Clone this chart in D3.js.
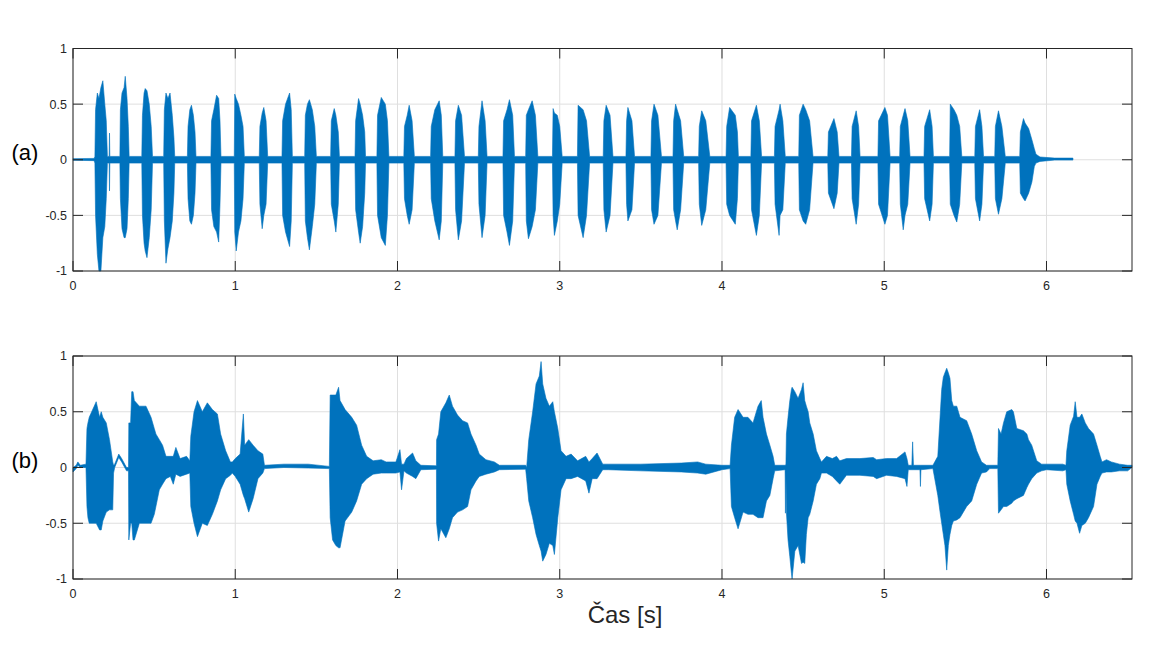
<!DOCTYPE html>
<html><head><meta charset="utf-8">
<script src="https://cdn.jsdelivr.net/npm/d3@7"></script>
<style>body{margin:0;background:#fff}</style>
</head><body>
<svg id="c" width="1158" height="651"></svg>
<script>
// ---- data ----
const xTicks = [0, 1, 2, 3, 4, 5, 6];
const yTicks = [-1, -0.5, 0, 0.5, 1];
const xMax = 6.527;
const panelLabels = ["(a)", "(b)"];
const xLabel = "Čas [s]";

// Panel (a): envelope of the waveform (time [s], upper, lower)
const timeA = [0, 0.13, 0.135, 0.139, 0.150, 0.160, 0.172, 0.184, 0.196, 0.205, 0.212, 0.223, 0.225, 0.227, 0.289,
  0.292, 0.302, 0.315, 0.322, 0.333, 0.341, 0.346,
  0.424, 0.428, 0.438, 0.445, 0.456, 0.470, 0.482, 0.490,
  0.559, 0.563, 0.573, 0.585, 0.598, 0.612, 0.622, 0.627,
  0.705, 0.709, 0.720, 0.730, 0.742, 0.752, 0.758,
  0.850, 0.854, 0.868, 0.885, 0.898, 0.906, 0.912,
  0.994, 0.997, 1.006, 1.020, 1.035, 1.048, 1.056,
  1.148, 1.152, 1.166, 1.176, 1.190, 1.200,
  1.288, 1.292, 1.310, 1.335, 1.345, 1.352,
  1.428, 1.432, 1.445, 1.457, 1.475, 1.490, 1.500,
  1.588, 1.592, 1.610, 1.620, 1.635, 1.642,
  1.738, 1.742, 1.760, 1.770, 1.785, 1.798, 1.803,
  1.873, 1.877, 1.900, 1.925, 1.938, 1.947,
  2.039, 2.043, 2.060, 2.072, 2.090, 2.104,
  2.204, 2.208, 2.230, 2.257, 2.270, 2.279,
  2.354, 2.358, 2.375, 2.395, 2.413,
  2.498, 2.502, 2.521, 2.540, 2.552,
  2.650, 2.654, 2.675, 2.690, 2.710, 2.721,
  2.790, 2.794, 2.807, 2.830, 2.850, 2.865,
  2.955, 2.959, 2.967, 2.985, 3.000, 3.015,
  3.109, 3.113, 3.144, 3.165, 3.184,
  3.268, 3.272, 3.286, 3.310, 3.328,
  3.408, 3.412, 3.420, 3.445, 3.461,
  3.562, 3.566, 3.581, 3.605, 3.627,
  3.698, 3.702, 3.714, 3.724, 3.745, 3.764,
  3.856, 3.860, 3.875, 3.900, 3.925,
  4.025, 4.029, 4.047, 4.082, 4.095, 4.101,
  4.178, 4.182, 4.212, 4.230, 4.244,
  4.323, 4.327, 4.352, 4.358, 4.375, 4.390,
  4.473, 4.477, 4.500, 4.516, 4.540, 4.561,
  4.652, 4.656, 4.690, 4.710, 4.721,
  4.798, 4.802, 4.827, 4.842, 4.851,
  4.961, 4.965, 5.004, 5.020, 5.036,
  5.095, 5.099, 5.117, 5.128, 5.145, 5.159,
  5.245, 5.249, 5.280, 5.295, 5.303,
  5.403, 5.407, 5.430, 5.447, 5.465, 5.478,
  5.558, 5.562, 5.588, 5.602, 5.612,
  5.681, 5.685, 5.704, 5.725, 5.746,
  5.835, 5.839, 5.858, 5.868, 5.890, 5.910, 5.925, 5.935,
  5.960, 6.050, 6.163];
const upperA = [0.01, 0.012, 0.03, 0.45, 0.6, 0.55, 0.65, 0.71, 0.5, 0.35, 0.03, 0.03, 0.24, 0.03, 0.03,
  0.45, 0.6, 0.65, 0.75, 0.55, 0.3, 0.03,
  0.03, 0.4, 0.6, 0.64, 0.62, 0.5, 0.3, 0.03,
  0.03, 0.45, 0.6, 0.55, 0.6, 0.4, 0.2, 0.03,
  0.03, 0.3, 0.45, 0.49, 0.4, 0.25, 0.03,
  0.03, 0.35, 0.45, 0.58, 0.55, 0.35, 0.03,
  0.03, 0.59, 0.55, 0.5, 0.4, 0.3, 0.03,
  0.03, 0.3, 0.42, 0.47, 0.35, 0.03,
  0.03, 0.35, 0.5, 0.6, 0.45, 0.03,
  0.03, 0.4, 0.5, 0.54, 0.45, 0.3, 0.03,
  0.03, 0.35, 0.46, 0.4, 0.25, 0.03,
  0.03, 0.35, 0.55, 0.5, 0.4, 0.25, 0.03,
  0.03, 0.4, 0.56, 0.5, 0.35, 0.03,
  0.03, 0.3, 0.4, 0.49, 0.35, 0.03,
  0.03, 0.3, 0.45, 0.53, 0.4, 0.03,
  0.03, 0.35, 0.49, 0.4, 0.03,
  0.03, 0.3, 0.53, 0.35, 0.03,
  0.03, 0.35, 0.45, 0.54, 0.4, 0.03,
  0.03, 0.4, 0.45, 0.53, 0.4, 0.03,
  0.03, 0.46, 0.42, 0.4, 0.3, 0.03,
  0.03, 0.49, 0.45, 0.35, 0.03,
  0.03, 0.35, 0.49, 0.4, 0.03,
  0.03, 0.35, 0.47, 0.35, 0.03,
  0.03, 0.35, 0.5, 0.4, 0.03,
  0.03, 0.35, 0.5, 0.45, 0.35, 0.03,
  0.03, 0.3, 0.44, 0.35, 0.03,
  0.03, 0.3, 0.47, 0.4, 0.25, 0.03,
  0.03, 0.35, 0.49, 0.35, 0.03,
  0.03, 0.3, 0.45, 0.5, 0.35, 0.03,
  0.03, 0.4, 0.5, 0.45, 0.35, 0.03,
  0.03, 0.25, 0.37, 0.25, 0.03,
  0.03, 0.3, 0.44, 0.3, 0.03,
  0.03, 0.35, 0.47, 0.4, 0.03,
  0.03, 0.3, 0.4, 0.46, 0.35, 0.03,
  0.03, 0.3, 0.45, 0.3, 0.03,
  0.03, 0.5, 0.45, 0.4, 0.3, 0.03,
  0.03, 0.3, 0.45, 0.3, 0.03,
  0.03, 0.3, 0.44, 0.3, 0.03,
  0.03, 0.25, 0.37, 0.33, 0.28, 0.18, 0.1, 0.05,
  0.025, 0.015, 0.015];
const lowerA = [-0.005, -0.008, -0.03, -0.5, -0.85, -1.0, -1.0, -0.7, -0.6, -0.35, -0.03, -0.03, -0.28, -0.03, -0.03,
  -0.35, -0.62, -0.7, -0.7, -0.62, -0.35, -0.03,
  -0.03, -0.5, -0.75, -0.82, -0.88, -0.7, -0.45, -0.03,
  -0.03, -0.55, -0.93, -0.8, -0.7, -0.55, -0.3, -0.03,
  -0.03, -0.35, -0.55, -0.58, -0.5, -0.3, -0.03,
  -0.03, -0.45, -0.6, -0.65, -0.74, -0.4, -0.03,
  -0.03, -0.65, -0.82, -0.65, -0.55, -0.35, -0.03,
  -0.03, -0.4, -0.62, -0.5, -0.4, -0.03,
  -0.03, -0.5, -0.65, -0.78, -0.55, -0.03,
  -0.03, -0.55, -0.7, -0.81, -0.6, -0.4, -0.03,
  -0.03, -0.4, -0.55, -0.65, -0.4, -0.03,
  -0.03, -0.45, -0.65, -0.75, -0.6, -0.3, -0.03,
  -0.03, -0.5, -0.7, -0.77, -0.5, -0.03,
  -0.03, -0.35, -0.5, -0.58, -0.45, -0.03,
  -0.03, -0.35, -0.55, -0.72, -0.55, -0.03,
  -0.03, -0.45, -0.72, -0.55, -0.03,
  -0.03, -0.4, -0.7, -0.5, -0.03,
  -0.03, -0.5, -0.65, -0.77, -0.55, -0.03,
  -0.03, -0.55, -0.71, -0.6, -0.45, -0.03,
  -0.03, -0.5, -0.68, -0.55, -0.4, -0.03,
  -0.03, -0.5, -0.7, -0.5, -0.03,
  -0.03, -0.45, -0.65, -0.5, -0.03,
  -0.03, -0.4, -0.55, -0.45, -0.03,
  -0.03, -0.45, -0.58, -0.5, -0.03,
  -0.03, -0.45, -0.55, -0.63, -0.45, -0.03,
  -0.03, -0.4, -0.59, -0.45, -0.03,
  -0.03, -0.4, -0.5, -0.58, -0.35, -0.03,
  -0.03, -0.45, -0.68, -0.5, -0.03,
  -0.03, -0.4, -0.68, -0.5, -0.45, -0.03,
  -0.03, -0.45, -0.55, -0.58, -0.45, -0.03,
  -0.03, -0.3, -0.44, -0.3, -0.03,
  -0.03, -0.35, -0.58, -0.4, -0.03,
  -0.03, -0.4, -0.58, -0.5, -0.03,
  -0.03, -0.4, -0.63, -0.5, -0.4, -0.03,
  -0.03, -0.35, -0.55, -0.4, -0.03,
  -0.03, -0.4, -0.5, -0.56, -0.4, -0.03,
  -0.03, -0.35, -0.55, -0.4, -0.03,
  -0.03, -0.35, -0.49, -0.35, -0.03,
  -0.03, -0.3, -0.35, -0.37, -0.3, -0.2, -0.06, -0.03,
  -0.015, -0.003, -0.003];

// Panel (b): envelope of the waveform (time [s], upper, lower)
const timeB = [0.0, 0.02, 0.03, 0.045, 0.08,
  0.086, 0.092, 0.1, 0.143, 0.164, 0.174, 0.184, 0.205, 0.225, 0.245, 0.25,
  0.257, 0.282, 0.3, 0.33, 0.342,
  0.344, 0.355, 0.362, 0.37, 0.378, 0.409, 0.45, 0.481, 0.501, 0.511, 0.532, 0.552, 0.573,
  0.6, 0.618, 0.634, 0.66, 0.7, 0.72,
  0.726, 0.746, 0.767, 0.797, 0.828, 0.859, 0.89, 0.91, 0.941, 0.97, 0.982,
  1.0, 1.03, 1.05, 1.058, 1.083, 1.11, 1.14, 1.17, 1.18,
  1.3, 1.45, 1.58,
  1.585, 1.6, 1.62, 1.637, 1.646, 1.677, 1.718, 1.748, 1.779, 1.81, 1.85, 1.9, 1.93, 1.99,
  2.015, 2.025, 2.04, 2.055, 2.093, 2.113, 2.144, 2.24,
  2.241, 2.253, 2.267, 2.298, 2.319, 2.339, 2.37, 2.401, 2.432, 2.453, 2.484, 2.504, 2.545, 2.597, 2.628,
  2.79,
  2.796, 2.809, 2.833, 2.854, 2.874, 2.885, 2.895, 2.915, 2.936, 2.957, 2.967, 2.988, 3.008, 3.039,
  3.07, 3.11, 3.16, 3.18, 3.2, 3.23, 3.265,
  3.3, 3.5, 3.75, 3.85, 3.9, 4.0, 4.05,
  4.058, 4.078, 4.099, 4.13, 4.16, 4.191, 4.222, 4.242, 4.253, 4.274, 4.295, 4.315, 4.325,
  4.389, 4.391, 4.394,
  4.397, 4.407, 4.418, 4.428, 4.432, 4.449, 4.469, 4.49, 4.5, 4.51, 4.52, 4.531, 4.541, 4.562, 4.582, 4.603, 4.613,
  4.644, 4.68, 4.706, 4.726, 4.767, 4.85, 4.932, 4.953, 5.014, 5.076, 5.128, 5.14, 5.148,
  5.17, 5.175, 5.18, 5.22, 5.223, 5.226, 5.3,
  5.33, 5.344, 5.354, 5.364, 5.374, 5.385, 5.395, 5.405, 5.416, 5.426, 5.447, 5.467, 5.508, 5.539, 5.57, 5.6,
  5.63, 5.65, 5.7,
  5.704, 5.72, 5.735, 5.755, 5.786, 5.796, 5.817, 5.858, 5.879, 5.889, 5.909, 5.94,
  5.97, 6.0, 6.1, 6.12,
  6.125, 6.146, 6.167, 6.177, 6.188, 6.204, 6.218, 6.239, 6.259, 6.29, 6.311, 6.331, 6.342,
  6.37, 6.4, 6.45, 6.5, 6.527];
const upperB = [0.0, 0.02, 0.05, 0.02, 0.03,
  0.35, 0.4, 0.45, 0.59, 0.45, 0.5, 0.45, 0.4, 0.25, 0.05, 0.02,
  0.03, 0.12, 0.08, 0.0, 0.0,
  0.4, 0.4, 0.68, 0.68, 0.6, 0.55, 0.55, 0.45, 0.35, 0.3, 0.25, 0.2, 0.1,
  0.1, 0.1, 0.18, 0.08, 0.1, 0.06,
  0.28, 0.5, 0.6, 0.5, 0.58, 0.52, 0.48, 0.3, 0.15, 0.05, 0.05,
  0.08, 0.12, 0.48, 0.2, 0.25, 0.2, 0.15, 0.12, 0.02,
  0.03, 0.03, 0.01,
  0.65, 0.65, 0.65, 0.72, 0.6, 0.52, 0.45, 0.38, 0.2, 0.1, 0.06, 0.07, 0.05, 0.05,
  0.16, 0.03, 0.03, 0.08, 0.13, 0.06, 0.02, 0.015,
  0.25, 0.3, 0.5, 0.58, 0.65, 0.55, 0.47, 0.42, 0.4, 0.3, 0.2, 0.12, 0.07, 0.05, 0.02,
  0.02,
  0.0, 0.25, 0.5, 0.75, 0.82, 0.95, 0.75, 0.62, 0.55, 0.59, 0.5, 0.35, 0.15, 0.1,
  0.12, 0.06, 0.1, 0.05, 0.08, 0.13, 0.03,
  0.03, 0.03, 0.04, 0.05, 0.03, 0.02, 0.02,
  0.2, 0.45, 0.52, 0.45, 0.45, 0.4, 0.55, 0.6, 0.45, 0.3, 0.2, 0.1, 0.02,
  0.02, 0.02, 0.03,
  0.3, 0.45, 0.6, 0.7, 0.72, 0.68, 0.62, 0.7, 0.76, 0.6, 0.55, 0.5, 0.4, 0.3, 0.15, 0.08, 0.05,
  0.1, 0.08, 0.1, 0.06, 0.08, 0.08, 0.09, 0.07, 0.08, 0.08, 0.14, 0.08, 0.02,
  0.02, 0.23, 0.02, 0.02, 0.02, 0.02, 0.02,
  0.1, 0.45, 0.7, 0.81, 0.85, 0.89, 0.85, 0.8, 0.6, 0.55, 0.55, 0.45, 0.42, 0.3, 0.15, 0.05,
  0.02, 0.02, 0.02,
  0.35, 0.3, 0.4, 0.5, 0.52, 0.5, 0.35, 0.33, 0.3, 0.25, 0.2, 0.06,
  0.03, 0.03, 0.03, 0.02,
  0.15, 0.38, 0.46, 0.59, 0.45, 0.45, 0.48, 0.4, 0.35, 0.3, 0.2, 0.1, 0.05,
  0.07, 0.05, 0.03, 0.02, 0.02];
const lowerB = [-0.04, -0.01, 0.02, 0.0, 0.0,
  -0.35, -0.45, -0.5, -0.5, -0.56, -0.56, -0.48, -0.4, -0.38, -0.38, -0.05,
  0.0, 0.09, 0.05, -0.03, -0.03,
  -0.65, -0.5, -0.5, -0.65, -0.65, -0.5, -0.5, -0.5, -0.42, -0.35, -0.2, -0.15, -0.1,
  -0.08, -0.15, -0.06, -0.08, -0.06, -0.05,
  -0.35, -0.5, -0.62, -0.5, -0.52, -0.42, -0.3, -0.2, -0.1, -0.07, -0.05,
  -0.08, -0.15, -0.25, -0.28, -0.4, -0.28, -0.1, -0.05, -0.01,
  0.0, -0.005, -0.01,
  -0.45, -0.65, -0.7, -0.72, -0.72, -0.48, -0.4, -0.3, -0.15, -0.1, -0.06, -0.05, -0.05, -0.05,
  -0.04, -0.2, -0.03, -0.05, -0.08, -0.1, -0.02, -0.015,
  -0.5, -0.66, -0.55, -0.63, -0.55, -0.45, -0.4, -0.38, -0.35, -0.2, -0.12, -0.08, -0.06, -0.04, -0.02,
  -0.015,
  -0.1, -0.3, -0.45, -0.6, -0.7, -0.75, -0.84, -0.78, -0.68, -0.7, -0.78, -0.45, -0.2, -0.1,
  -0.1, -0.08, -0.12, -0.23, -0.1, -0.1, -0.02,
  -0.02, -0.03, -0.04, -0.05, -0.06, -0.02, -0.01,
  -0.35, -0.45, -0.55, -0.4, -0.42, -0.42, -0.45, -0.45, -0.45, -0.3, -0.25, -0.1, -0.03,
  -0.02, -0.41, -0.03,
  -0.4, -0.65, -0.8, -0.95, -1.0, -0.75, -0.7, -0.86, -0.85, -0.86, -0.6, -0.45, -0.42, -0.3, -0.15, -0.1, -0.05,
  -0.05, -0.08, -0.12, -0.15, -0.07, -0.07, -0.08, -0.1, -0.07, -0.08, -0.1, -0.17, -0.02,
  -0.02, -0.02, -0.02, -0.02, -0.17, -0.02, -0.01,
  -0.25, -0.4, -0.5, -0.6, -0.7, -0.92, -0.7, -0.6, -0.52, -0.48, -0.47, -0.45, -0.35, -0.3, -0.15, -0.05,
  -0.04, -0.01, -0.01,
  -0.41, -0.38, -0.35, -0.35, -0.32, -0.3, -0.28, -0.25, -0.18, -0.15, -0.1, -0.05,
  -0.03, -0.02, -0.03, -0.02,
  -0.15, -0.3, -0.42, -0.48, -0.5, -0.59, -0.52, -0.5, -0.45, -0.35, -0.15, -0.08, -0.05,
  -0.04, -0.04, -0.03, -0.03, 0.0];

// ---- drawing ----
const svg = d3.select("#c");
const W = { left: 73, right: 1132 };
const panels = [
  { top: 48.5, bottom: 271, t: timeA, u: upperA, l: lowerA, label: panelLabels[0] },
  { top: 356, bottom: 579, t: timeB, u: upperB, l: lowerB, label: panelLabels[1] }
];
const axisColor = "#262626";
const waveColor = "#0072BD";
const font = "Arial, 'Liberation Sans', Helvetica, sans-serif";

panels.forEach((p, pi) => {
  const x = d3.scaleLinear().domain([0, xMax]).range([W.left, W.right]);
  const y = d3.scaleLinear().domain([-1, 1]).range([p.bottom, p.top]);
  const g = svg.append("g");

  // grid
  g.selectAll(".gx").data(xTicks).join("line")
    .attr("x1", d => x(d)).attr("x2", d => x(d)).attr("y1", p.top).attr("y2", p.bottom)
    .attr("stroke", "#dfdfdf").attr("stroke-width", 1);
  g.selectAll(".gy").data(yTicks).join("line")
    .attr("x1", W.left).attr("x2", W.right).attr("y1", d => y(d)).attr("y2", d => y(d))
    .attr("stroke", "#dfdfdf").attr("stroke-width", 1);

  // waveform envelope
  const idx = d3.range(p.t.length);
  const area = d3.area()
    .x(i => x(p.t[i])).y0(i => y(p.l[i])).y1(i => y(p.u[i]));
  g.append("path").attr("d", area(idx))
    .attr("fill", waveColor).attr("stroke", waveColor).attr("stroke-width", 0.6)
    .attr("stroke-linejoin", "miter");

  // box
  g.append("rect").attr("x", W.left).attr("y", p.top)
    .attr("width", W.right - W.left).attr("height", p.bottom - p.top)
    .attr("fill", "none").attr("stroke", axisColor).attr("stroke-width", 1);

  // ticks (inward, on all four sides)
  const tl = 10;
  g.selectAll(".tb").data(xTicks).join("line")
    .attr("x1", d => x(d)).attr("x2", d => x(d)).attr("y1", p.bottom).attr("y2", p.bottom - tl)
    .attr("stroke", axisColor);
  g.selectAll(".tt").data(xTicks).join("line")
    .attr("x1", d => x(d)).attr("x2", d => x(d)).attr("y1", p.top).attr("y2", p.top + tl)
    .attr("stroke", axisColor);
  g.selectAll(".tl").data(yTicks).join("line")
    .attr("x1", W.left).attr("x2", W.left + tl).attr("y1", d => y(d)).attr("y2", d => y(d))
    .attr("stroke", axisColor);
  g.selectAll(".tr").data(yTicks).join("line")
    .attr("x1", W.right).attr("x2", W.right - tl).attr("y1", d => y(d)).attr("y2", d => y(d))
    .attr("stroke", axisColor);

  // tick labels
  g.selectAll(".lx").data(xTicks).join("text")
    .attr("x", d => x(d)).attr("y", p.bottom + 19.2)
    .attr("text-anchor", "middle").attr("font-family", font).attr("font-size", 12.5)
    .attr("fill", axisColor).text(d => d);
  g.selectAll(".ly").data(yTicks).join("text")
    .attr("x", W.left - 6).attr("y", d => y(d) + 4.4)
    .attr("text-anchor", "end").attr("font-family", font).attr("font-size", 12.5)
    .attr("fill", axisColor).text(d => d);

  // panel label
  g.append("text").attr("x", 11.5).attr("y", y(0) + 0.5)
    .attr("font-family", font).attr("font-size", 22).attr("fill", "#000")
    .text(p.label);
});

svg.append("text").attr("x", 625).attr("y", 623)
  .attr("text-anchor", "middle").attr("font-family", font).attr("font-size", 24)
  .attr("fill", axisColor).text(xLabel);
</script>
</body></html>
